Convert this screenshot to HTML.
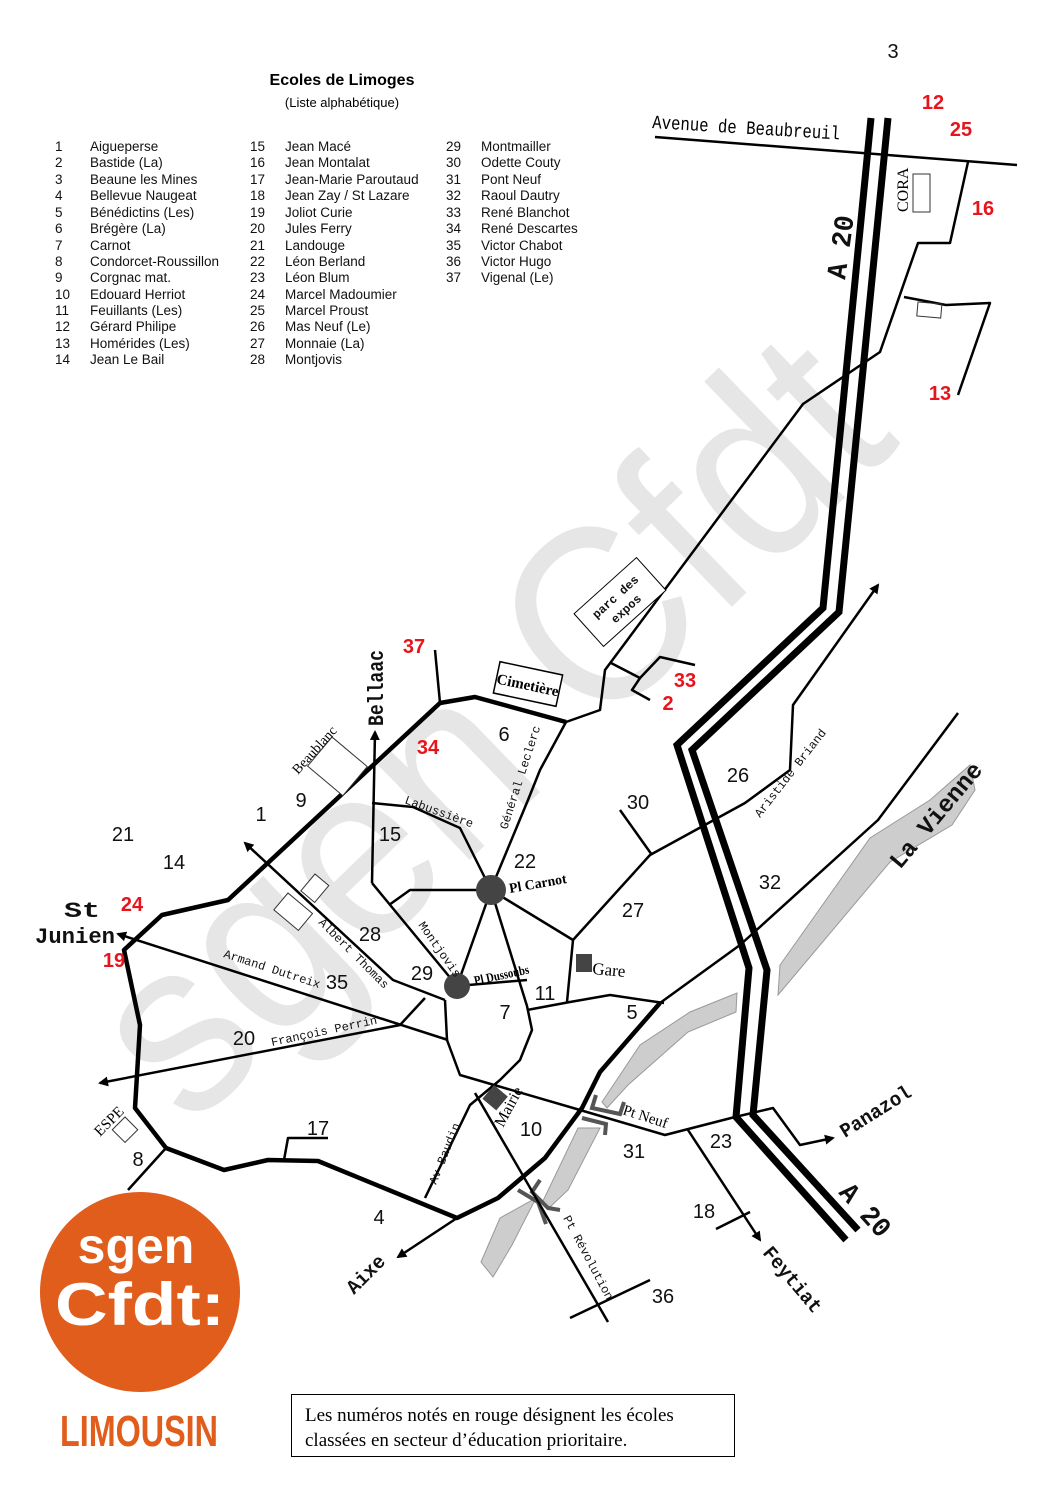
<!DOCTYPE html>
<html><head><meta charset="utf-8"><style>
html,body{margin:0;padding:0;background:#fff}
svg{display:block}
.n{font-family:"Liberation Sans",sans-serif;font-size:20px;fill:#111;text-anchor:middle}
.r{font-family:"Liberation Sans",sans-serif;font-size:20px;font-weight:bold;fill:#e8141b;text-anchor:middle}
.l{font-family:"Liberation Sans",sans-serif;font-size:13.5px;fill:#111}
.m{font-family:"Liberation Mono",monospace;font-size:12px;fill:#111}
.mb{font-family:"Liberation Mono",monospace;font-weight:bold;fill:#111}
.rd{fill:none;stroke:#000;stroke-width:2.5;stroke-linejoin:round}
.th{fill:none;stroke:#000;stroke-width:4.5;stroke-linejoin:round}
.a20{fill:none;stroke:#000;stroke-width:7;stroke-linejoin:miter}
.rv{fill:#cdcdcd;stroke:#999;stroke-width:1}
.br{fill:none;stroke:#555;stroke-width:4}
</style></head><body>
<svg width="1058" height="1497" viewBox="0 0 1058 1497" xmlns="http://www.w3.org/2000/svg">
<defs><marker id="ar" markerWidth="10" markerHeight="10" refX="8" refY="5" orient="auto" markerUnits="userSpaceOnUse"><path d="M0,0 L10,5 L0,10 z" fill="#000"/></marker></defs>

<!-- watermark -->
<text x="0" y="0" transform="translate(190,1130) rotate(-44)" font-family="Liberation Sans,sans-serif" font-size="250" fill="#e6e6e6" textLength="990" lengthAdjust="spacingAndGlyphs">sgen Cfdt</text>

<!-- header -->
<text x="342" y="85" font-family="Liberation Sans,sans-serif" font-size="16" font-weight="bold" text-anchor="middle">Ecoles de Limoges</text>
<text x="342" y="107" font-family="Liberation Sans,sans-serif" font-size="13" text-anchor="middle">(Liste alphabétique)</text>
<text x="893" y="58" class="n">3</text>

<g class="l">
<text x="55" y="151">1</text><text x="90" y="151">Aigueperse</text>
<text x="55" y="167">2</text><text x="90" y="167">Bastide (La)</text>
<text x="55" y="184">3</text><text x="90" y="184">Beaune les Mines</text>
<text x="55" y="200">4</text><text x="90" y="200">Bellevue Naugeat</text>
<text x="55" y="217">5</text><text x="90" y="217">Bénédictins (Les)</text>
<text x="55" y="233">6</text><text x="90" y="233">Brégère (La)</text>
<text x="55" y="250">7</text><text x="90" y="250">Carnot</text>
<text x="55" y="266">8</text><text x="90" y="266">Condorcet-Roussillon</text>
<text x="55" y="282">9</text><text x="90" y="282">Corgnac mat.</text>
<text x="55" y="299">10</text><text x="90" y="299">Edouard Herriot</text>
<text x="55" y="315">11</text><text x="90" y="315">Feuillants (Les)</text>
<text x="55" y="331">12</text><text x="90" y="331">Gérard Philipe</text>
<text x="55" y="348">13</text><text x="90" y="348">Homérides (Les)</text>
<text x="55" y="364">14</text><text x="90" y="364">Jean Le Bail</text>
<text x="250" y="151">15</text><text x="285" y="151">Jean Macé</text>
<text x="250" y="167">16</text><text x="285" y="167">Jean Montalat</text>
<text x="250" y="184">17</text><text x="285" y="184">Jean-Marie Paroutaud</text>
<text x="250" y="200">18</text><text x="285" y="200">Jean Zay / St Lazare</text>
<text x="250" y="217">19</text><text x="285" y="217">Joliot Curie</text>
<text x="250" y="233">20</text><text x="285" y="233">Jules Ferry</text>
<text x="250" y="250">21</text><text x="285" y="250">Landouge</text>
<text x="250" y="266">22</text><text x="285" y="266">Léon Berland</text>
<text x="250" y="282">23</text><text x="285" y="282">Léon Blum</text>
<text x="250" y="299">24</text><text x="285" y="299">Marcel Madoumier</text>
<text x="250" y="315">25</text><text x="285" y="315">Marcel Proust</text>
<text x="250" y="331">26</text><text x="285" y="331">Mas Neuf (Le)</text>
<text x="250" y="348">27</text><text x="285" y="348">Monnaie (La)</text>
<text x="250" y="364">28</text><text x="285" y="364">Montjovis</text>
<text x="446" y="151">29</text><text x="481" y="151">Montmailler</text>
<text x="446" y="167">30</text><text x="481" y="167">Odette Couty</text>
<text x="446" y="184">31</text><text x="481" y="184">Pont Neuf</text>
<text x="446" y="200">32</text><text x="481" y="200">Raoul Dautry</text>
<text x="446" y="217">33</text><text x="481" y="217">René Blanchot</text>
<text x="446" y="233">34</text><text x="481" y="233">René Descartes</text>
<text x="446" y="250">35</text><text x="481" y="250">Victor Chabot</text>
<text x="446" y="266">36</text><text x="481" y="266">Victor Hugo</text>
<text x="446" y="282">37</text><text x="481" y="282">Vigenal (Le)</text>
</g>

<!-- rivers -->
<polygon class="rv" points="778,995 780,965 870,838 930,800 970,765 975,790 952,825 890,862"/>
<polygon class="rv" points="602,1102 640,1045 690,1012 737,993 736,1012 688,1032 628,1085 607,1108"/>
<polygon class="rv" points="542,1203 578,1128 600,1128 568,1190 550,1207"/>
<polygon class="rv" points="481,1262 500,1218 536,1198 512,1245 493,1277"/>
<!-- bridges -->
<polyline class="br" points="596,1095 592,1108 620,1114 624,1102"/>
<polyline class="br" points="582,1118 606,1124 605,1135"/>
<polyline class="br" points="540,1180 532,1192 548,1208 560,1210"/>
<polyline class="br" points="518,1190 538,1202 546,1224"/>

<!-- Avenue de Beaubreuil -->
<line class="rd" x1="655" y1="137" x2="1017" y2="165"/>
<text x="0" y="0" transform="translate(652,128) rotate(3.5)" font-family="Liberation Mono,monospace" font-size="19" textLength="188" lengthAdjust="spacingAndGlyphs">Avenue de Beaubreuil</text>

<!-- A20 -->
<polyline class="a20" points="871,118 823,608 677,745 749,968 736,1117 846,1240"/>
<polyline class="a20" points="888,118 839,612 692,750 767,970 753,1115 858,1230"/>
<text x="0" y="0" transform="translate(845,280) rotate(-82)" class="mb" font-size="28" textLength="64" lengthAdjust="spacingAndGlyphs">A 20</text>
<text x="0" y="0" transform="translate(838,1193) rotate(48)" class="mb" font-size="28" fill="#333" textLength="62" lengthAdjust="spacingAndGlyphs">A 20</text>

<!-- CORA area -->
<polyline class="rd" points="968,162 950,243 918,243 880,352 803,404 605,670 600,710 566,722"/>
<polyline class="rd" points="904,297 946,305 990,303 958,395"/>
<rect x="913" y="174" width="17" height="38" fill="none" stroke="#333" stroke-width="1"/>
<rect x="0" y="0" width="24" height="14" transform="translate(918,302) rotate(5)" fill="none" stroke="#333" stroke-width="1"/>
<text x="0" y="0" transform="translate(908,212) rotate(-90)" font-family="Liberation Serif,serif" font-size="16">CORA</text>

<!-- parc des expos -->
<g transform="translate(620,602) rotate(-42)"><rect x="-42" y="-22" width="84" height="44" fill="#fff" stroke="#000" stroke-width="1"/><text x="0" y="-3" class="mb" font-size="12" text-anchor="middle">parc des</text><text x="0" y="13" class="mb" font-size="12" text-anchor="middle">expos</text></g>
<polyline class="rd" points="611,663 640,678 660,657 695,665"/>
<polyline class="rd" points="640,678 632,690 650,700"/>

<!-- ring -->
<polyline class="th" points="566,722 475,697 440,703 228,900 162,915 124,950 140,1025 135,1108 166,1148 224,1170 268,1160 318,1161 457,1218 498,1198 545,1158 582,1108 600,1072 660,1003"/>
<polyline class="rd" points="660,1003 740,945 878,820 958,713"/>
<!-- cimetière -->
<g transform="translate(528,684) rotate(12)"><rect x="-32" y="-16" width="64" height="32" fill="#fff" stroke="#000" stroke-width="1.5"/><text x="0" y="6" font-family="Liberation Serif,serif" font-weight="bold" font-size="15" text-anchor="middle">Cimetière</text></g>
<line class="rd" x1="435" y1="650" x2="440" y2="703"/>

<!-- Bellac -->
<line class="rd" x1="372" y1="883" x2="375" y2="732" marker-end="url(#ar)"/>
<text x="0" y="0" transform="translate(383,726) rotate(-90)" class="mb" font-size="22" textLength="76" lengthAdjust="spacingAndGlyphs">Bellaac</text>
<!-- beaublanc -->
<rect x="0" y="0" width="46" height="38" transform="translate(332,737) rotate(40)" fill="#fff" stroke="#333" stroke-width="1"/>
<text x="0" y="0" transform="translate(298,775) rotate(-48)" font-family="Liberation Serif,serif" font-size="14">Beaublanc</text>
<rect x="0" y="0" width="18" height="22" transform="translate(315,874) rotate(40)" fill="#fff" stroke="#333" stroke-width="1"/>
<rect x="0" y="0" width="32" height="22" transform="translate(288,893) rotate(40)" fill="#fff" stroke="#333" stroke-width="1"/>
<rect x="0" y="0" width="18" height="18" transform="translate(125,1117) rotate(45)" fill="#fff" stroke="#333" stroke-width="1"/>
<text x="0" y="0" transform="translate(100,1137) rotate(-45)" font-family="Liberation Serif,serif" font-size="15">ESPE</text>

<!-- center roads -->
<polyline class="rd" points="372,803 413,807 460,828 490,888"/>
<polyline class="rd" points="566,722 540,770 528,800 491,889"/>
<polyline class="rd" points="389,905 410,890 491,890"/>
<polyline class="rd" points="372,883 457,986"/>
<polyline class="rd" points="491,890 457,986"/>
<polyline class="rd" points="491,890 573,940 567,1002"/>
<polyline class="rd" points="491,890 527,1006 532,1030 520,1060 500,1080 470,1105 425,1198"/>
<polyline class="rd" points="457,986 527,980"/>
<polyline class="rd" points="527,1010 570,1002 610,995 664,1003"/>
<polyline class="rd" points="573,940 650,855 745,803 790,770 793,705 878,585" marker-end="url(#ar)"/>
<line class="rd" x1="620" y1="810" x2="652" y2="855"/>
<polyline class="rd" points="445,1000 393,980 245,843" marker-end="url(#ar)"/>
<polyline class="rd" points="448,1040 118,934" marker-end="url(#ar)"/>
<polyline class="rd" points="425,998 400,1025 100,1083" marker-end="url(#ar)"/>
<polyline class="rd" points="445,1000 447,1040 460,1075 580,1110 665,1135 735,1117 773,1108 800,1145 833,1138" marker-end="url(#ar)"/>
<polyline class="rd" points="475,1093 608,1322"/>
<line class="rd" x1="570" y1="1318" x2="650" y2="1280"/>
<polyline class="rd" points="688,1130 760,1240" marker-end="url(#ar)"/>
<line class="rd" x1="716" y1="1229" x2="750" y2="1212"/>
<polyline class="rd" points="457,1218 398,1257" marker-end="url(#ar)"/>
<polyline class="rd" points="284,1160 288,1138 328,1138"/>
<line class="rd" x1="166" y1="1148" x2="128" y2="1190"/>

<circle cx="491" cy="890" r="15" fill="#444"/>
<circle cx="457" cy="986" r="13" fill="#444"/>
<rect x="576" y="954" width="16" height="18" fill="#444"/>
<rect x="0" y="0" width="18" height="18" transform="translate(494,1085) rotate(40)" fill="#444"/>

<!-- road labels -->
<text x="0" y="0" transform="translate(404,803) rotate(20)" class="m">Labussière</text>
<text x="0" y="0" transform="translate(507,830) rotate(-72)" class="m">Général Leclerc</text>
<text x="0" y="0" transform="translate(510,893) rotate(-10)" font-family="Liberation Serif,serif" font-weight="bold" font-size="14" textLength="58" lengthAdjust="spacingAndGlyphs">Pl Carnot</text>
<text x="0" y="0" transform="translate(475,985) rotate(-12)" font-family="Liberation Serif,serif" font-weight="bold" font-size="13" textLength="56" lengthAdjust="spacingAndGlyphs">Pl Dussoubs</text>
<text x="0" y="0" transform="translate(592,974) rotate(5)" font-family="Liberation Serif,serif" font-size="17">Gare</text>
<text x="0" y="0" transform="translate(418,925) rotate(55)" class="m">Montjovis</text>
<text x="0" y="0" transform="translate(318,923) rotate(45)" class="m">Albert Thomas</text>
<text x="0" y="0" transform="translate(223,957) rotate(18)" class="m" font-size="11">Armand Dutreix</text>
<text x="0" y="0" transform="translate(272,1046) rotate(-12)" class="m" font-size="11">François Perrin</text>
<text x="0" y="0" transform="translate(436,1185) rotate(-68)" class="m">Av Baudin</text>
<text x="0" y="0" transform="translate(503,1128) rotate(-62)" font-family="Liberation Serif,serif" font-size="16">Mairie</text>
<text x="0" y="0" transform="translate(622,1114) rotate(18)" font-family="Liberation Serif,serif" font-size="15">Pt Neuf</text>
<text x="0" y="0" transform="translate(563,1218) rotate(62)" class="m">Pt Révolution</text>
<text x="0" y="0" transform="translate(760,818) rotate(-52)" class="m">Aristide Briand</text>
<text x="0" y="0" transform="translate(900,870) rotate(-50)" class="mb" font-size="24" fill="#333" textLength="130" lengthAdjust="spacingAndGlyphs">La Vienne</text>
<text x="0" y="0" transform="translate(845,1138) rotate(-32)" class="mb" font-size="20" textLength="80" lengthAdjust="spacingAndGlyphs">Panazol</text>
<text x="0" y="0" transform="translate(762,1253) rotate(50)" class="mb" font-size="20" textLength="80" lengthAdjust="spacingAndGlyphs">Feytiat</text>
<text x="0" y="0" transform="translate(354,1295) rotate(-45)" class="mb" font-size="20" textLength="46" lengthAdjust="spacingAndGlyphs">Aixe</text>
<text x="82" y="917" class="mb" font-size="22" text-anchor="middle" textLength="36" lengthAdjust="spacingAndGlyphs">St</text>
<text x="75" y="943" class="mb" font-size="22" text-anchor="middle" textLength="80" lengthAdjust="spacingAndGlyphs">Junien</text>

<!-- numbers -->
<g class="n">
<text x="504" y="741">6</text><text x="301" y="807">9</text><text x="261" y="821">1</text><text x="123" y="841">21</text><text x="174" y="869">14</text><text x="390" y="841">15</text><text x="525" y="868">22</text><text x="638" y="809">30</text><text x="738" y="782">26</text><text x="770" y="889">32</text><text x="633" y="917">27</text><text x="370" y="941">28</text><text x="422" y="980">29</text><text x="337" y="989">35</text><text x="545" y="1000">11</text><text x="505" y="1019">7</text><text x="632" y="1019">5</text><text x="244" y="1045">20</text><text x="318" y="1135">17</text><text x="531" y="1136">10</text><text x="634" y="1158">31</text><text x="721" y="1148">23</text><text x="138" y="1166">8</text><text x="379" y="1224">4</text><text x="704" y="1218">18</text><text x="663" y="1303">36</text>
</g>
<g class="r">
<text x="933" y="109">12</text><text x="961" y="136">25</text><text x="983" y="215">16</text><text x="940" y="400">13</text><text x="414" y="653">37</text><text x="685" y="687">33</text><text x="668" y="710">2</text><text x="428" y="754">34</text><text x="132" y="911">24</text><text x="114" y="967">19</text>
</g>

<!-- logo -->
<circle cx="140" cy="1292" r="100" fill="#e05d1b"/>
<text x="136" y="1263" font-family="Liberation Sans,sans-serif" font-weight="bold" font-size="50" fill="#fff" text-anchor="middle">sgen</text>
<text x="140" y="1325" font-family="Liberation Sans,sans-serif" font-weight="bold" font-size="60" fill="#fff" text-anchor="middle" textLength="170" lengthAdjust="spacingAndGlyphs">Cfdt:</text>
<text x="139" y="1446" font-family="Liberation Sans,sans-serif" font-weight="bold" font-size="44" fill="#e05d1b" text-anchor="middle" textLength="158" lengthAdjust="spacingAndGlyphs">LIMOUSIN</text>

<!-- note -->
<rect x="291.5" y="1394.5" width="443" height="62" fill="#fff" stroke="#000" stroke-width="1"/>
<text x="305" y="1421" font-family="Liberation Serif,serif" font-size="19">Les numéros notés en rouge désignent les écoles</text>
<text x="305" y="1446" font-family="Liberation Serif,serif" font-size="19">classées en secteur d’éducation prioritaire.</text>
</svg>
</body></html>
